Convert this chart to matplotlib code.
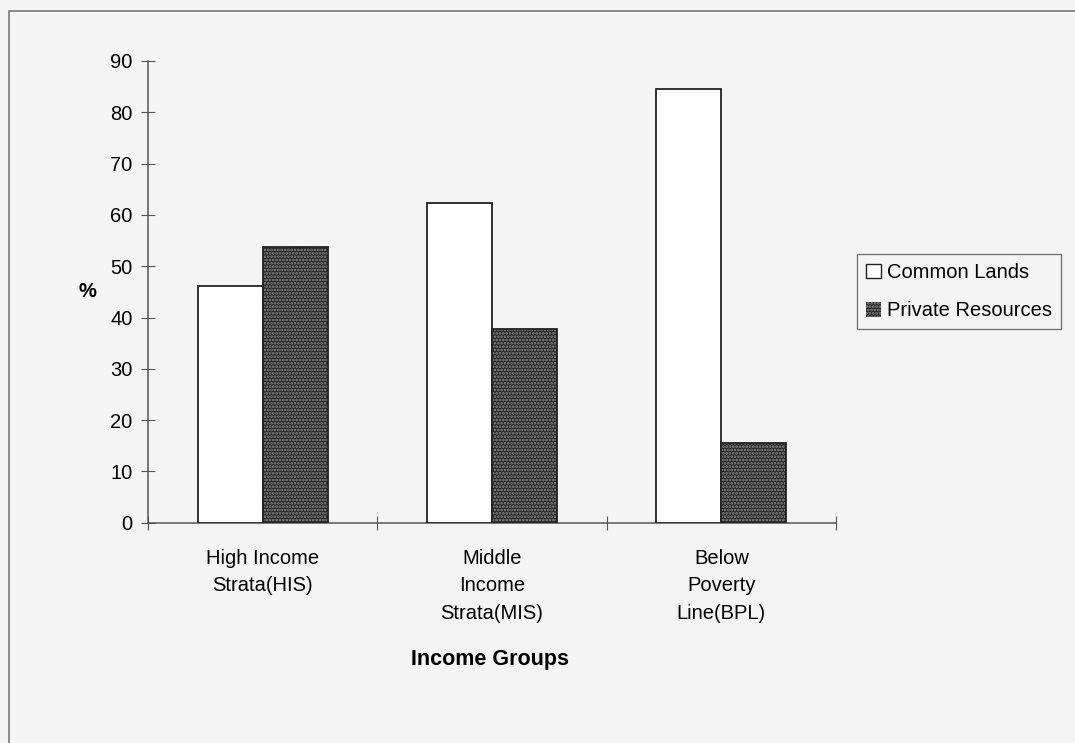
import matplotlib
matplotlib.use("Agg")
import matplotlib.pyplot as plt
from matplotlib.patches import Patch, Rectangle
import numpy as np

categories = ["High Income\nStrata(HIS)", "Middle\nIncome\nStrata(MIS)", "Below\nPoverty\nLine(BPL)"]
common_lands = [46.2, 62.3, 84.5]
private_resources = [53.8, 37.7, 15.5]
series_names = ["Common Lands", "Private Resources"]
yticks = [0, 10, 20, 30, 40, 50, 60, 70, 80, 90]

plt.rcParams['font.family'] = ['Liberation Sans', 'DejaVu Sans']
plt.rcParams['hatch.linewidth'] = 1.3

bg = '#f4f4f4'
fs = 14.5
fig = plt.figure(figsize=(10.75, 7.43), dpi=100, facecolor=bg)
ax = fig.add_axes([148/1075, 1-522.7/743, (836-148)/1075, (522.7-61)/743])
ax.set_facecolor(bg)

x = np.arange(len(categories))
w = 0.284
edge = '#222222'
dark = '#262626'
dots = '#8c8c8c'
ax.bar(x - w/2, common_lands, w, facecolor='white', edgecolor=edge, linewidth=1.3, zorder=3)
ax.bar(x + w/2, private_resources, w, facecolor=dark, edgecolor=dots,
       hatch='.....', linewidth=0, zorder=3)
ax.bar(x + w/2, private_resources, w, fill=False, edgecolor=edge, linewidth=1.3, zorder=4)

ax.set_xlim(-0.5, 2.5)
ax.set_ylim(0, 90)
ax.set_yticks(yticks)
ax.set_xticks([-0.5, 0.5, 1.5, 2.5])
ax.set_xticklabels([])
ax.set_xticks(x, minor=True)
ax.set_xticklabels(categories, minor=True, fontsize=fs, linespacing=1.55, va='top')
ax.tick_params(axis='x', which='minor', length=0, pad=19)
ax.tick_params(axis='x', which='major', direction='inout', length=10, color='#555555')
ax.tick_params(axis='y', direction='inout', length=10, color='#555555', labelsize=fs, pad=6)
for s in ['top', 'right']:
    ax.spines[s].set_visible(False)
for s in ['left', 'bottom']:
    ax.spines[s].set_color('#555555')
    ax.spines[s].set_linewidth(1.1)

fig.text(87/1075, 1-292/743, "%", fontsize=fs, fontweight='bold', ha='center', va='center')
fig.text(490/1075, 1-659/743, "Income Groups", fontsize=15.5, fontweight='bold', ha='center', va='center')

handles = [Patch(facecolor='white', edgecolor=edge, linewidth=1.0),
           Patch(facecolor=dark, edgecolor=dots, hatch='.....', linewidth=0)]
leg = fig.legend(handles, series_names, loc='upper left', bbox_to_anchor=(857/1075, 1-254/743),
                 frameon=True, fancybox=False, fontsize=fs, handlelength=0.75, handleheight=0.75,
                 handletextpad=0.3, borderpad=0.45, borderaxespad=0, labelspacing=0.95)
leg.get_frame().set_edgecolor('#555555')
leg.get_frame().set_facecolor(bg)
leg.get_frame().set_linewidth(1.0)

fig.add_artist(Rectangle((9/1075, -0.01), 1.1, 1 - 11/743 + 0.01, transform=fig.transFigure,
                         fill=False, edgecolor='#777777', linewidth=1.2))

fig.savefig('out.png', dpi=100, facecolor=bg)
